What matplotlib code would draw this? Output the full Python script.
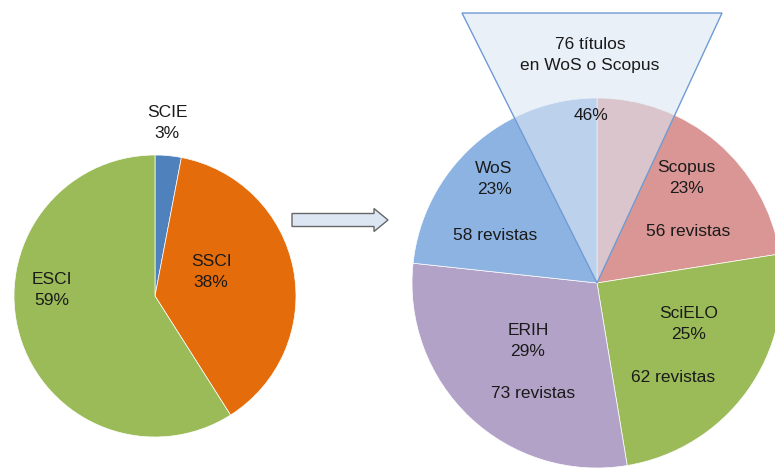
import matplotlib
matplotlib.use("Agg")
import matplotlib.pyplot as plt
from matplotlib.patches import Polygon, FancyArrow

plt.rcParams["font.family"] = ["Liberation Sans", "DejaVu Sans"]

# left pie: WoS indexes
left_labels = ["SCIE", "SSCI", "ESCI"]
left_pcts = [3, 38, 59]
left_colors = ["#4F81BD", "#E46C0A", "#9BBB59"]

# right pie: databases (number of journals)
right_labels = ["Scopus", "SciELO", "ERIH", "WoS"]
right_counts = [56, 62, 73, 58]
right_pcts = [23, 25, 29, 23]
right_colors = ["#D99694", "#9BBB59", "#B3A2C7", "#8DB3E2"]

overlap_pct = 46
overlap_text = "76 títulos\nen WoS o Scopus"

W, H = 775, 468
fig = plt.figure(figsize=(W / 100, H / 100), dpi=100)
ax = fig.add_axes([0, 0, 1, 1])


def Y(y):
    # pixel row -> data y (y up)
    return H - y


ax.pie(left_pcts, colors=left_colors, startangle=90, counterclock=False,
       center=(155, Y(296)), radius=141,
       wedgeprops=dict(edgecolor="white", linewidth=0.5))
ax.pie(right_counts, colors=right_colors, startangle=90, counterclock=False,
       center=(597, Y(283)), radius=185,
       wedgeprops=dict(edgecolor="white", linewidth=0.5))

# overlap triangle
tri_pts = [(462, Y(13)), (722, Y(13)), (597, Y(283))]
ax.add_patch(Polygon(tri_pts, closed=True, facecolor="#DCE6F2", alpha=0.6,
                     edgecolor="none"))
ax.add_patch(Polygon(tri_pts, closed=True, facecolor="none",
                     edgecolor="#6F9BD4", linewidth=1))

# arrow
ax.add_patch(FancyArrow(292, Y(220), 96, 0, width=13, head_width=23,
                        head_length=14, length_includes_head=True,
                        facecolor="#DCE6F2", edgecolor="#666666", linewidth=1))

fs = 12.5
kw = dict(ha="center", va="center", fontsize=fs, color="#1A1A1A", linespacing=1.5)

# left labels
left_pos = [(167, 123), (211, 272), (52, 290)]
for lab, p, (x, y) in zip(left_labels, left_pcts, left_pos):
    ax.text(x, Y(y), f"{lab}\n{p}%", **kw)

# right labels
right_pos = [(686, 178), (689, 324), (528, 341), (494, 179)]
count_pos = [(688, 231), (673, 377), (533, 393), (495, 236)]
for lab, p, n, (x, y), (cx, cy) in zip(right_labels, right_pcts, right_counts,
                                        right_pos, count_pos):
    ax.text(x, Y(y), f"{lab}\n{p}%", **kw)
    ax.text(cx, Y(cy), f"{n} revistas", **kw)

ax.text(591, Y(115), f"{overlap_pct}%", **kw)
ax.text(590, Y(55), overlap_text, **kw)

ax.set_xlim(0, W)
ax.set_ylim(0, H)
ax.set_aspect("equal")
ax.axis("off")

fig.savefig("out.png", dpi=100)
